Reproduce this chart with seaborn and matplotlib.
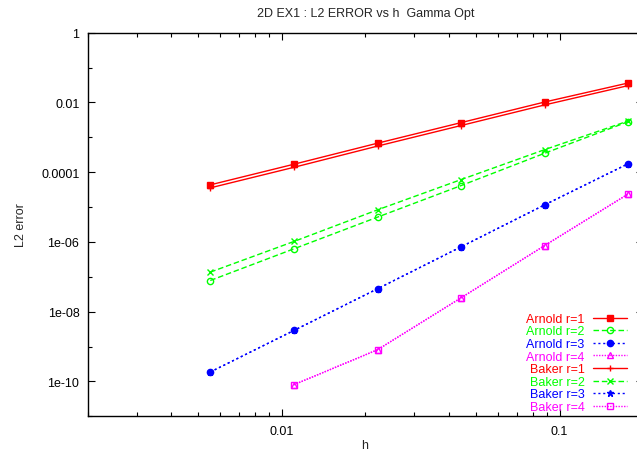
import numpy as np
import pandas as pd
import matplotlib
matplotlib.use("Agg")
import matplotlib.pyplot as plt
import matplotlib.ticker as mticker
import seaborn as sns

# mesh sizes h = sqrt(2)/N
h = [0.005524, 0.011049, 0.022097, 0.044194, 0.088388, 0.176777]
h4 = h[1:]

arnold_r1 = [4.33e-5, 1.69e-4, 6.78e-4, 2.64e-3, 1.03e-2, 3.62e-2]
arnold_r2 = [7.83e-8, 6.34e-7, 5.14e-6, 4.13e-5, 3.50e-4, 2.82e-3]
arnold_r3 = [1.86e-10, 2.89e-9, 4.53e-8, 7.24e-7, 1.16e-5, 1.76e-4]
arnold_r4 = [8.04e-11, 8.09e-10, 2.50e-8, 7.89e-7, 2.39e-5]

baker_r1 = [3.55e-5, 1.38e-4, 5.60e-4, 2.18e-3, 8.50e-3, 3.05e-2]
baker_r2 = [1.36e-7, 1.03e-6, 8.31e-6, 6.14e-5, 4.44e-4, 2.95e-3]
baker_r3 = [1.86e-10, 2.89e-9, 4.53e-8, 7.24e-7, 1.16e-5, 1.76e-4]
baker_r4 = [8.04e-11, 8.09e-10, 2.50e-8, 7.89e-7, 2.39e-5]

sns.set_style("ticks")
plt.rcParams['font.family'] = ['Liberation Sans', 'DejaVu Sans']
plt.rcParams['font.size'] = 9

fig = plt.figure(figsize=(6.37, 4.56), dpi=100)
ax = fig.add_axes([0.1377, 0.0849, 0.8721, 0.8412])

series = [
    ("Arnold r=1", h, arnold_r1, "#ff0000", "-", "s", True, 4.5),
    ("Arnold r=2", h, arnold_r2, "#00ff00", (0, (4, 2)), "o", False, 4.5),
    ("Arnold r=3", h, arnold_r3, "#0000ff", (0, (1.5, 2)), "o", True, 4.5),
    ("Arnold r=4", h4, arnold_r4, "#ff00ff", (0, (1, 1)), "^", False, 4.5),
    ("Baker r=1", h, baker_r1, "#ff0000", "-", "+", True, 5),
    ("Baker r=2", h, baker_r2, "#00ff00", (0, (4, 2)), "x", True, 4.5),
    ("Baker r=3", h, baker_r3, "#0000ff", (0, (1.5, 2)), "*", True, 4.5),
    ("Baker r=4", h4, baker_r4, "#ff00ff", (0, (1, 1)), "s", False, 4.2),
]

for name, xs, ys, col, ls, mk, filled, ms in series:
    df = pd.DataFrame({"h": xs, "err": ys})
    sns.lineplot(data=df, x="h", y="err", ax=ax, color=col, linestyle=ls,
                 marker=mk, markersize=ms,
                 markerfacecolor=col if filled else "none",
                 markeredgecolor=col, markeredgewidth=1, lw=1, label=name)

ax.set_xscale("log")
ax.set_yscale("log")
ax.set_xlim(0.002, 0.2)
ax.set_ylim(1e-11, 1)

ax.xaxis.set_major_locator(mticker.FixedLocator([0.01, 0.1]))
ax.xaxis.set_minor_locator(mticker.LogLocator(base=10, subs=np.arange(2, 10)))
ax.xaxis.set_major_formatter(mticker.FormatStrFormatter("%g"))
ax.xaxis.set_minor_formatter(mticker.NullFormatter())
ax.yaxis.set_major_locator(mticker.FixedLocator([10.0 ** k for k in range(-10, 1, 2)]))
ax.yaxis.set_minor_locator(mticker.FixedLocator([10.0 ** k for k in range(-11, 0, 2)]))
ax.yaxis.set_major_formatter(mticker.FormatStrFormatter("%g"))
ax.yaxis.set_minor_formatter(mticker.NullFormatter())

ax.tick_params(which="both", direction="in", top=True, right=True, width=0.8,
               colors="black", labelsize=9, pad=6)
ax.tick_params(which="major", length=5)
ax.tick_params(which="minor", length=3)
for sp in ax.spines.values():
    sp.set_linewidth(1)
    sp.set_color("black")

ax.set_title("2D EX1 : L2 ERROR vs h  Gamma Opt", fontsize=9, pad=12)
ax.set_xlabel("h", fontsize=9)
ax.set_ylabel("L2 error", fontsize=9)
ax.xaxis.set_label_coords(0.499, -0.06)
ax.yaxis.set_label_coords(-0.11, 0.5)

leg = ax.legend(loc="lower right", bbox_to_anchor=(0.982, -0.008), frameon=False,
                markerfirst=False, labelcolor="linecolor", handlelength=2.7,
                handleheight=0.6, handletextpad=0.7, labelspacing=0.05,
                borderaxespad=0.1, fontsize=9)

fig.savefig("out.png", dpi=100)
